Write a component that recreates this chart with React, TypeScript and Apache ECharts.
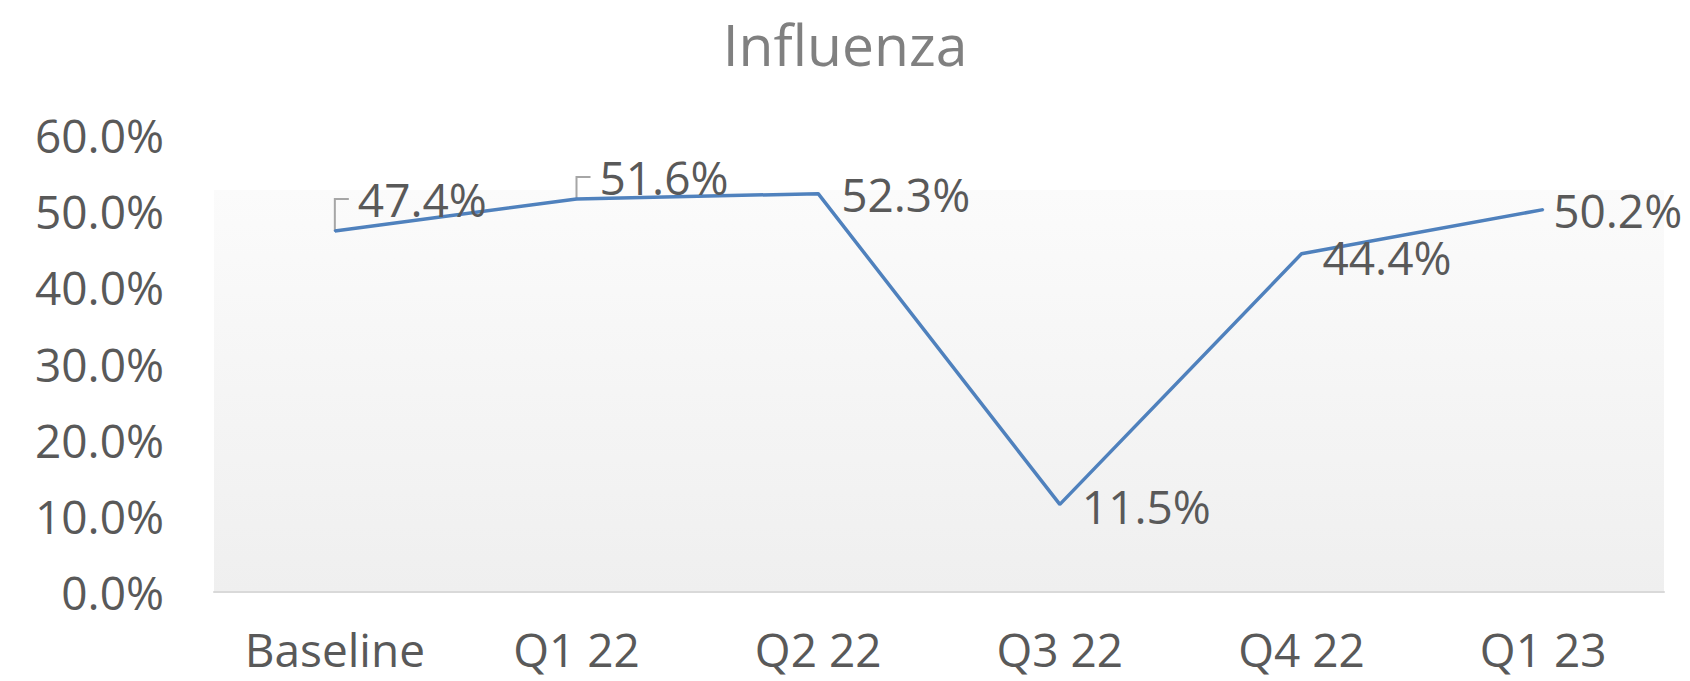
import React, { useEffect, useRef } from "react";
import * as echarts from "echarts";

const titleText = "Influenza";
const categories = ["Baseline", "Q1 22", "Q2 22", "Q3 22", "Q4 22", "Q1 23"];
const values = [0.474, 0.516, 0.523, 0.115, 0.444, 0.502];
const yTicks = [0, 0.1, 0.2, 0.3, 0.4, 0.5, 0.6];

const FONT = "'Open Sans', 'Noto Sans', sans-serif";
const pct = (v: number) => (v * 100).toFixed(1) + "%";

// label placement per point (style, not data)
const labelOffsetY = [-32, -22, 0, 2, 3, 0];
const labelDistance = [22, 22, 22, 21, 20, 9];
const leader = [true, true, false, false, false, false];

export default function App() {
  const ref = useRef<HTMLDivElement>(null);
  useEffect(() => {
    if (!ref.current) return;
    const chart = echarts.init(ref.current, null, { renderer: "svg" });
    const data = values.map((v, i) => ({
      value: v,
      label: {
        offset: [0, labelOffsetY[i]],
        distance: labelDistance[i],
      },
    }));
    chart.setOption({
      animation: false,
      backgroundColor: "#ffffff",
      title: {
        text: titleText,
        left: "center",
        top: 9,
        itemGap: 0,
        textStyle: {
          fontFamily: FONT,
          fontSize: 57,
          lineHeight: 60,
          fontWeight: "normal",
          color: "#808080",
        },
      },
      grid: {
        left: 214,
        right: 26,
        top: 135,
        bottom: 89,
        show: true,
        borderWidth: 0,
        backgroundColor: new echarts.graphic.LinearGradient(0, 0, 0, 1, [
          { offset: 0, color: "#ffffff" },
          { offset: 0.12, color: "#ffffff" },
          { offset: 0.121, color: "#fbfbfb" },
          { offset: 1, color: "#efefef" },
        ]),
      },
      xAxis: {
        type: "category",
        data: categories,
        boundaryGap: true,
        axisLine: { show: true, lineStyle: { color: "#d9d9d9", width: 2 } },
        axisTick: { show: false },
        axisLabel: {
          fontFamily: FONT,
          fontSize: 46,
          lineHeight: 44,
          color: "#595959",
          margin: 35,
        },
        splitLine: { show: false },
      },
      yAxis: {
        type: "value",
        min: yTicks[0],
        max: yTicks[yTicks.length - 1],
        interval: 0.1,
        axisLine: { show: false },
        axisTick: { show: false },
        splitLine: { show: false },
        axisLabel: {
          fontFamily: FONT,
          fontSize: 46,
          color: "#595959",
          margin: 50,
          formatter: (v: number) => pct(v),
        },
      },
      series: [
        {
          type: "line",
          data,
          symbol: "circle",
          symbolSize: 2,
          showSymbol: true,
          itemStyle: { color: "#4F81BD" },
          lineStyle: { color: "#4F81BD", width: 3.5 },
          label: {
            show: true,
            position: "right",
            fontFamily: FONT,
            fontSize: 46,
            color: "#595959",
            formatter: (p: any) => pct(p.value),
          },
        },
      ],
    });
    const graphics: any[] = [];
    values.forEach((v, i) => {
      if (!leader[i]) return;
      const [px, py] = chart.convertToPixel({ seriesIndex: 0 }, [i, v]) as number[];
      const ly = py + labelOffsetY[i];
      graphics.push({
        type: "polyline",
        silent: true,
        shape: { points: [[px, py], [px, ly], [px + 14, ly]] },
        style: { stroke: "#a6a6a6", lineWidth: 2, fill: null },
        z: 1,
      });
    });
    chart.setOption({ graphic: graphics });
    return () => chart.dispose();
  }, []);
  return (
    <div
      ref={ref}
      style={{ position: "fixed", left: 0, top: 0, width: 1690, height: 681 }}
    />
  );
}
